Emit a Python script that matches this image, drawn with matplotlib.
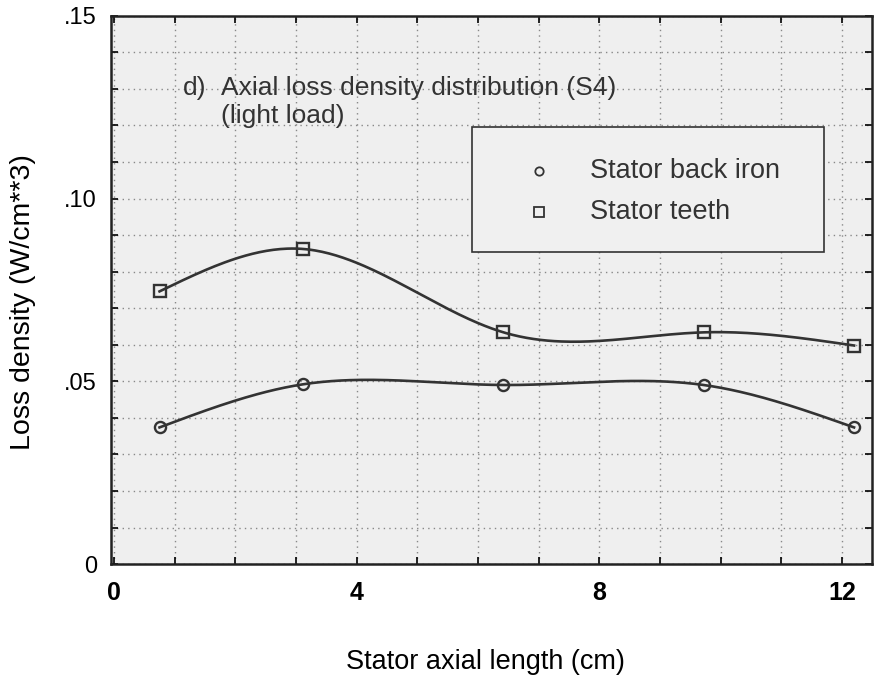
import numpy as np
import matplotlib.pyplot as plt
from matplotlib.ticker import MultipleLocator, FixedLocator

plt.rcParams['font.family'] = ['Liberation Sans', 'DejaVu Sans']

# data
x_pos = [0.75, 3.12, 6.42, 9.72, 12.2]
back_iron = [0.0374, 0.0492, 0.0490, 0.0490, 0.0374]
teeth = [0.0746, 0.0862, 0.0634, 0.0634, 0.0598]


def natural_spline(x, y, n=300):
    x = np.asarray(x, float)
    y = np.asarray(y, float)
    k = len(x)
    h = np.diff(x)
    A = np.zeros((k, k))
    b = np.zeros(k)
    A[0, 0] = A[-1, -1] = 1
    for i in range(1, k - 1):
        A[i, i - 1] = h[i - 1]
        A[i, i] = 2 * (h[i - 1] + h[i])
        A[i, i + 1] = h[i]
        b[i] = 6 * ((y[i + 1] - y[i]) / h[i] - (y[i] - y[i - 1]) / h[i - 1])
    m = np.linalg.solve(A, b)
    xs = np.linspace(x[0], x[-1], n)
    ys = np.empty_like(xs)
    for j, t in enumerate(xs):
        i = min(max(np.searchsorted(x, t) - 1, 0), k - 2)
        a = x[i + 1] - t
        c = t - x[i]
        ys[j] = (m[i] * a ** 3 + m[i + 1] * c ** 3) / (6 * h[i]) \
            + (y[i] / h[i] - m[i] * h[i] / 6) * a \
            + (y[i + 1] / h[i] - m[i + 1] * h[i] / 6) * c
    return xs, ys


fig = plt.figure(figsize=(8.74, 6.83), dpi=100)
ax = fig.add_axes([0.127, 0.174, 0.871, 0.803])
ax.set_facecolor('#efefef')

for ys_, mk in [(back_iron, 'o'), (teeth, 's')]:
    sx, sy = natural_spline(x_pos, ys_)
    ax.plot(sx, sy, color='#333333', lw=1.9)
    ax.plot(x_pos, ys_, mk, ms=8 if mk == 'o' else 9, mfc='none', mec='#333333', mew=1.7)

ax.set_xlim(-0.05, 12.5)
ax.set_ylim(0, 0.15)
ax.xaxis.set_major_locator(FixedLocator([0, 4, 8, 12]))
ax.xaxis.set_minor_locator(MultipleLocator(1))
ax.yaxis.set_major_locator(FixedLocator([0, 0.05, 0.10, 0.15]))
ax.yaxis.set_minor_locator(MultipleLocator(0.01))
ax.set_xticklabels(['0', '4', '8', '12'], fontsize=18, fontweight='bold')
ax.set_yticklabels(['0', '.05', '.10', '.15'], fontsize=17)
ax.tick_params(which='both', direction='in', top=True, right=True, length=5, width=1.2)
ax.tick_params(axis='x', pad=12)
ax.tick_params(axis='y', pad=10)
ax.grid(which='minor', ls=(0, (1, 3)), color='#888888', lw=1)
ax.grid(which='major', ls=(0, (1, 3)), color='#888888', lw=1)
for s in ax.spines.values():
    s.set_linewidth(1.8)
    s.set_color('#222222')

ax.text(1.14, 0.1303, 'd)', fontsize=19, color='#333333', va='center')
ax.text(1.77, 0.1303, 'Axial loss density distribution (S4)', fontsize=19, color='#333333', va='center')
ax.text(1.77, 0.1227, '(light load)', fontsize=19, color='#333333', va='center')

# legend box
ax.add_patch(plt.Rectangle((5.9, 0.0853), 5.8, 0.0343, fill=True, fc='#f0f0f0',
                           ec='#333333', lw=1.2, zorder=3))
ax.plot([7.0], [0.1075], 'o', ms=6, mfc='none', mec='#333333', mew=1.3, zorder=4)
ax.plot([7.0], [0.0963], 's', ms=7, mfc='none', mec='#333333', mew=1.3, zorder=4)
ax.text(7.85, 0.1075, 'Stator back iron', fontsize=19.5, color='#333333', va='center', zorder=4)
ax.text(7.85, 0.0963, 'Stator teeth', fontsize=19.5, color='#333333', va='center', zorder=4)

fig.text(0.555, 0.031, 'Stator axial length (cm)', fontsize=19.5, ha='center', va='center')
fig.text(0.026, 0.558, 'Loss density (W/cm**3)', fontsize=20.5, rotation=90, ha='center', va='center')

fig.savefig('out.png', dpi=100)
